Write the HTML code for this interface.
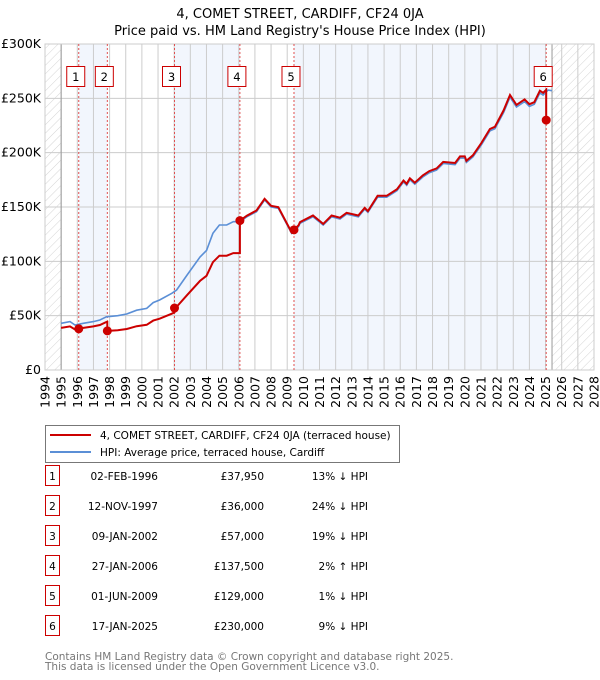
<!DOCTYPE html>
<html><head><meta charset="utf-8"><style>
body{margin:0;background:#fff;font-family:"DejaVu Sans","Liberation Sans",sans-serif;}
#wrap{position:relative;width:600px;height:680px;overflow:hidden}
</style></head><body><div id="wrap">
<svg id="chart" width="600" height="680" style="position:absolute;left:0;top:0"></svg>
</div>
<script>
const hpiYears=[1995.0,1995.55,1995.86,1996.37,1997.0,1997.4,1997.8,1998.5,1999.06,1999.68,2000.3,2000.7,2001.1,2001.85,2002.15,2002.8,2003.6,2004.0,2004.4,2004.8,2005.25,2005.66,2006.07,2006.5,2007.1,2007.6,2008.0,2008.45,2009.27,2009.7,2009.79,2010.6,2011.23,2011.75,2012.27,2012.68,2013.4,2013.8,2014.0,2014.6,2015.16,2015.8,2016.2,2016.4,2016.6,2016.9,2017.4,2017.8,2018.25,2018.66,2019.4,2019.7,2020.0,2020.1,2020.5,2021.0,2021.55,2021.86,2022.4,2022.8,2023.2,2023.7,2024.0,2024.3,2024.65,2024.85,2025.16,2025.4];
const hpiValues=[43,44.5,41.4,43,44.5,46,49,50,51.5,55,56.7,62,64.4,70.6,73.6,87.4,104,110,125.8,133.4,133.4,136.5,136.5,141,145.7,156.4,150,148.8,125.8,132,135,141,133.4,141,139,143.5,141,148,145,159,159,165,173,170,175,171,177.6,181.6,184,190,189,195,195,191,196,206.7,220,222,237,251,242,247,242.6,244.5,255,253,257.6,257];
const saleYears=[1996.09,1997.86,2002.02,2006.07,2009.42,2025.04];
const salePrices=[37950,36000,57000,137500,129000,230000];
const saleDates=["02-FEB-1996","12-NOV-1997","09-JAN-2002","27-JAN-2006","01-JUN-2009","17-JAN-2025"];
const salePriceLabels=["£37,950","£36,000","£57,000","£137,500","£129,000","£230,000"];
const saleHpiLabels=["13% ↓ HPI","24% ↓ HPI","19% ↓ HPI","2% ↑ HPI","1% ↓ HPI","9% ↓ HPI"];
const yTicks=[0,50,100,150,200,250,300];
const yTickLabels=["£0","£50K","£100K","£150K","£200K","£250K","£300K"];
const xTicks=[1994,1995,1996,1997,1998,1999,2000,2001,2002,2003,2004,2005,2006,2007,2008,2009,2010,2011,2012,2013,2014,2015,2016,2017,2018,2019,2020,2021,2022,2023,2024,2025,2026,2027,2028];

const L=45,R=594,T=44,B=370;
const X=y=>L+(y-1994)/(2028-1994)*(R-L);
const Y=v=>B-v/300*(B-T);
const NS="http://www.w3.org/2000/svg";
const svg=document.getElementById('chart');
function mk(tag,attrs,parent,name){const e=document.createElementNS(NS,tag);for(const k in attrs)e.setAttribute(k,attrs[k]);(parent||svg).appendChild(e);


return e;}
function hpiAt(t){if(t<=hpiYears[0])return hpiValues[0];for(let i=1;i<hpiYears.length;i++){if(t<=hpiYears[i]){const f=(t-hpiYears[i-1])/(hpiYears[i]-hpiYears[i-1]);return hpiValues[i-1]+f*(hpiValues[i]-hpiValues[i-1]);}}return hpiValues[hpiValues.length-1];}

const defs=mk('defs',{},svg,'defs');
const pat=mk('pattern',{id:'hatch',width:6,height:6,patternUnits:'userSpaceOnUse',patternTransform:'rotate(45)'},defs,'hatch-pattern');
mk('line',{x1:0,y1:0,x2:0,y2:6,stroke:'#d4d4d4','stroke-width':1},pat,'hatch-line');
const t1=mk('text',{x:300,y:18,'text-anchor':'middle','font-size':13,fill:'#000'},svg,'chart-title');t1.textContent='4, COMET STREET, CARDIFF, CF24 0JA';
const t2=mk('text',{x:300,y:35,'text-anchor':'middle','font-size':13,fill:'#000'},svg,'chart-subtitle');t2.textContent="Price paid vs. HM Land Registry's House Price Index (HPI)";
mk('rect',{x:L,y:T,width:X(1995)-L,height:B-T,fill:'url(#hatch)'},svg,'hatch-left');
const hEnd=hpiYears[hpiYears.length-1];
mk('rect',{x:X(hEnd),y:T,width:R-X(hEnd),height:B-T,fill:'url(#hatch)'},svg,'hatch-right');
[[0,1],[2,3],[4,5]].forEach((p,i)=>mk('rect',{x:X(saleYears[p[0]]),y:T,width:X(saleYears[p[1]])-X(saleYears[p[0]]),height:B-T,fill:'#eef3fc',opacity:0.75},svg,'ownership-band-'+(i+1)));
xTicks.forEach(v=>mk('line',{x1:X(v),y1:T,x2:X(v),y2:B,stroke:'#cccccc','stroke-width':1},svg,'x-grid-'+v));
yTicks.forEach(v=>mk('line',{x1:L,y1:Y(v),x2:R,y2:Y(v),stroke:'#cccccc','stroke-width':1},svg,'y-grid-'+v));
mk('line',{x1:X(1995),y1:T,x2:X(1995),y2:B,stroke:'#999','stroke-width':1},svg,'hpi-start-line');
mk('line',{x1:X(hEnd),y1:T,x2:X(hEnd),y2:B,stroke:'#999','stroke-width':1},svg,'hpi-end-line');
mk('rect',{x:L,y:T,width:R-L,height:B-T,fill:'none',stroke:'#cccccc'},svg,'plot-frame');
yTicks.forEach((v,i)=>{const e=mk('text',{x:L-4,y:Y(v)+4,'text-anchor':'end','font-size':12.5,fill:'#000'},svg,'y-tick-label');e.textContent=yTickLabels[i];});
xTicks.forEach(v=>{const e=mk('text',{x:0,y:0,'text-anchor':'end','font-size':12.5,fill:'#000',transform:`translate(${X(v)+4.5},${B+6}) rotate(-90)`},svg,'x-tick-label');e.textContent=v;});
saleYears.forEach((s,i)=>{mk('line',{x1:X(s),y1:T,x2:X(s),y2:B,stroke:'#e05050','stroke-width':1,'stroke-dasharray':'2,2'},svg,'sale-line-'+(i+1));
mk('rect',{x:X(s)-12,y:66.5,width:18,height:20,fill:'#fff',stroke:'#cc0000','stroke-width':1},svg,'sale-marker-box-'+(i+1));
const e=mk('text',{x:X(s)-3,y:81,'text-anchor':'middle','font-size':11.5,fill:'#000'},svg,'sale-marker-label-'+(i+1));e.textContent=i+1;});
let d='';hpiYears.forEach((t,i)=>{d+=(i?'L':'M')+X(t).toFixed(1)+','+Y(hpiValues[i]).toFixed(1);});
mk('path',{d:d,fill:'none',stroke:'#5b8fd6','stroke-width':1.6},svg,'hpi-line');
let rd='';
for(let k=0;k<saleYears.length;k++){
 const ratio=salePrices[k]/1000/hpiAt(saleYears[k]);
 const start=k===0?1995:saleYears[k];
 const end=k<saleYears.length-1?saleYears[k+1]:saleYears[k];
 const pts=[start];hpiYears.forEach(t=>{if(t>start&&t<end)pts.push(t);});pts.push(end);
 pts.forEach((t,j)=>{rd+=(rd===''?'M':'L')+X(t).toFixed(1)+','+Y(hpiAt(t)*ratio).toFixed(1);});
}
mk('path',{d:rd,fill:'none',stroke:'#cc0000','stroke-width':2},svg,'price-paid-line');
saleYears.forEach((s,i)=>mk('circle',{cx:X(s),cy:Y(salePrices[i]/1000),r:4.5,fill:'#cc0000'},svg,'sale-point-'+(i+1)));
const lg=mk('g',{},svg,'legend');
mk('rect',{x:45.5,y:425.5,width:354,height:37,fill:'#fff',stroke:'#777'},lg,'legend-box');
mk('line',{x1:50,y1:435,x2:91,y2:435,stroke:'#cc0000','stroke-width':2},lg,'legend-price-swatch');
mk('line',{x1:50,y1:452,x2:91,y2:452,stroke:'#5b8fd6','stroke-width':2},lg,'legend-hpi-swatch');
let e=mk('text',{x:100,y:439,'font-size':10.5,fill:'#000'},lg,'legend-price-label');e.textContent='4, COMET STREET, CARDIFF, CF24 0JA (terraced house)';
e=mk('text',{x:100,y:456,'font-size':10.5,fill:'#000'},lg,'legend-hpi-label');e.textContent='HPI: Average price, terraced house, Cardiff';
saleYears.forEach((s,i)=>{const cy=483+i*30;
 mk('rect',{x:45.5,y:cy-17.5,width:14,height:20,fill:'#fff',stroke:'#cc0000'},svg,'table-num-box-'+(i+1));
 let t=mk('text',{x:52.5,y:cy-3,'text-anchor':'middle','font-size':10.5},svg,'table-num');t.textContent=i+1;
 t=mk('text',{x:158,y:cy-3,'text-anchor':'end','font-size':10.5},svg,'table-date');t.textContent=saleDates[i];
 t=mk('text',{x:264,y:cy-3,'text-anchor':'end','font-size':10.5},svg,'table-price');t.textContent=salePriceLabels[i];
 t=mk('text',{x:368,y:cy-3,'text-anchor':'end','font-size':10.5},svg,'table-hpi-diff');t.textContent=saleHpiLabels[i];
});
e=mk('text',{x:45,y:660,'font-size':10.5,fill:'#777'},svg,'footer-line-1');e.textContent='Contains HM Land Registry data © Crown copyright and database right 2025.';
e=mk('text',{x:45,y:670,'font-size':10.5,fill:'#777'},svg,'footer-line-2');e.textContent='This data is licensed under the Open Government Licence v3.0.';
</script></body></html>
